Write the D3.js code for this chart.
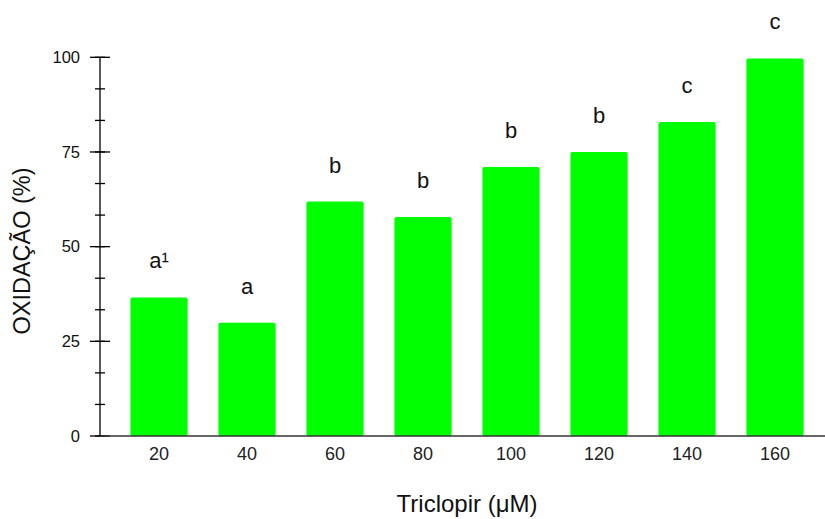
<!DOCTYPE html>
<html><head><meta charset="utf-8">
<script src="https://cdn.jsdelivr.net/npm/d3@7"></script>
<style>body{margin:0;background:#fff}svg{display:block;font-family:"Liberation Sans",Arial,sans-serif}</style>
</head><body>
<svg id="c" width="825" height="519"></svg>
<script>
const categories = ["20","40","60","80","100","120","140","160"];
const values = [36.6, 29.9, 61.9, 57.8, 71.0, 75.0, 82.9, 99.7];
const letters = ["a¹","a","b","b","b","b","c","c"];
const yTicks = [0,25,50,75,100];

const svg = d3.select("#c");
const x = d3.scaleBand().domain(categories).range([115,819]).paddingInner(0.35).paddingOuter(0.175);
const y = d3.scaleLinear().domain([0,100]).range([436,57.3]);

// bars
svg.selectAll("rect.bar").data(values).enter().append("rect")
  .attr("class","bar")
  .attr("x",(d,i)=>x(categories[i]))
  .attr("width",x.bandwidth())
  .attr("y",d=>y(d))
  .attr("height",d=>y(0)-y(d))
  .attr("rx",2).attr("fill","#00ff00");

// letters
svg.selectAll("text.let").data(values).enter().append("text")
  .attr("x",(d,i)=>x(categories[i])+x.bandwidth()/2)
  .attr("y",d=>y(d)-29)
  .attr("text-anchor","middle").attr("font-size",22).attr("fill","#111")
  .text((d,i)=>letters[i]);

// y axis
const minor = d3.range(0,100.01,25/3);
const yg = svg.append("g");
yg.append("line").attr("x1",100).attr("x2",100).attr("y1",y(0)).attr("y2",y(100)).attr("stroke","#000").attr("stroke-width",1.3);
yg.selectAll("line.mi").data(minor).enter().append("line")
  .attr("x1",95).attr("x2",105).attr("y1",d=>y(d)).attr("y2",d=>y(d)).attr("stroke","#000").attr("stroke-width",1.3);
yg.selectAll("line.ma").data(yTicks).enter().append("line")
  .attr("x1",90).attr("x2",110).attr("y1",d=>y(d)).attr("y2",d=>y(d)).attr("stroke","#000").attr("stroke-width",1.3);
yg.selectAll("text").data(yTicks).enter().append("text")
  .attr("x",80).attr("y",d=>y(d)).attr("dy","0.35em").attr("text-anchor","end")
  .attr("font-size",16.5).attr("fill","#111").text(d=>d);

// x axis
const xg = svg.append("g");
xg.append("line").attr("x1",100).attr("x2",825).attr("y1",y(0)).attr("y2",y(0)).attr("stroke","#333").attr("stroke-width",1.3);
xg.selectAll("text").data(categories).enter().append("text")
  .attr("x",d=>x(d)+x.bandwidth()/2).attr("y",460).attr("text-anchor","middle")
  .attr("font-size",18).attr("fill","#222").text(d=>d);

// titles
svg.append("text").attr("transform","translate(30,251) rotate(-90)").attr("text-anchor","middle")
  .attr("font-size",23.5).attr("fill","#111").text("OXIDAÇÃO (%)");
svg.append("text").attr("x",467).attr("y",512).attr("text-anchor","middle")
  .attr("font-size",24).attr("fill","#111").text("Triclopir (μM)");
</script>
</body></html>
